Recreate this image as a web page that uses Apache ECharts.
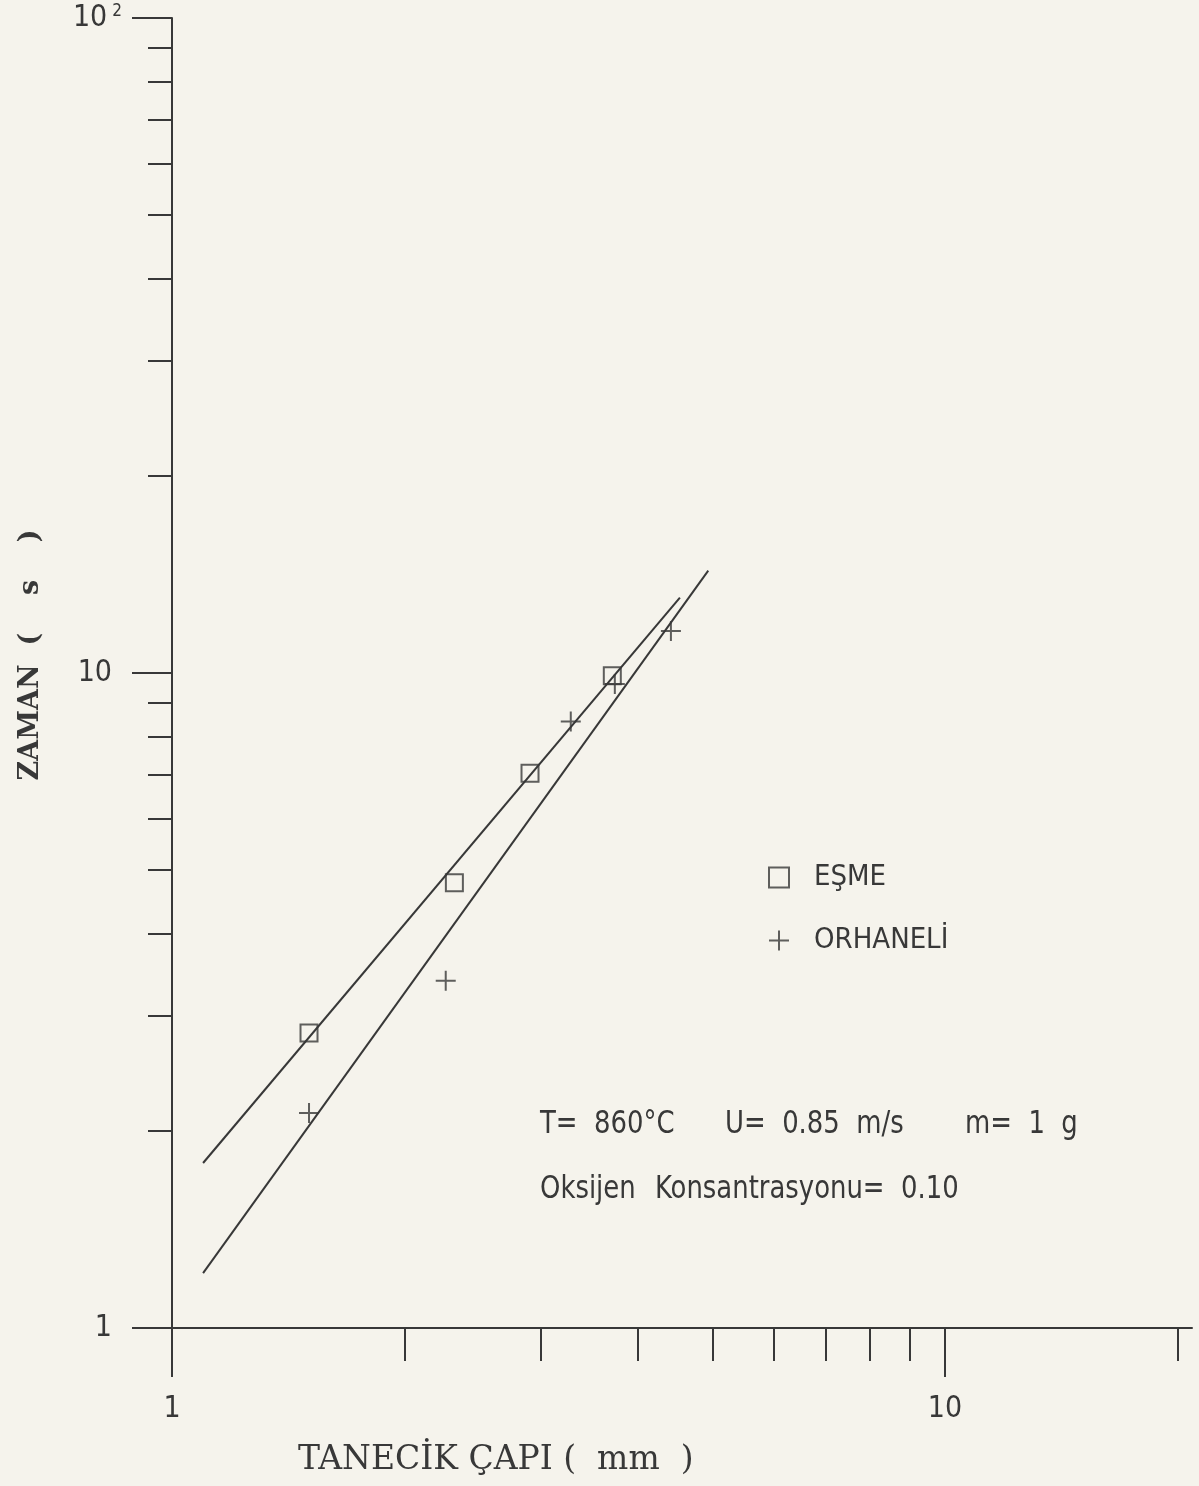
<!DOCTYPE html>
<html>
<head>
<meta charset="utf-8">
<script src="https://cdn.jsdelivr.net/npm/echarts@6/dist/echarts.min.js"></script>
<style>
html,body{margin:0;padding:0;background:#f5f3ec;}
#chart{width:1199px;height:1486px;}
</style>
</head>
<body>
<div id="chart"></div>
<script>
// ---- data ----
const esmeX = [1.504, 2.319, 2.905, 3.712];
const esmeY = [2.82, 4.785, 7.03, 9.90];
const orhX = [1.504, 2.26, 3.28, 3.74, 4.42];
const orhY = [2.13, 3.39, 8.43, 9.62, 11.59];
const esmeFitX = [1.097, 4.54];
const esmeFitY = [1.786, 13.03];
const orhFitX = [1.097, 4.94];
const orhFitY = [1.213, 14.33];
const xMajorTicks = [1, 10];
const xMinorTicks = [2, 3, 4, 5, 6, 7, 8, 9, 20];
const yMajorTicks = [1, 10, 100];
const yMinorTicks = [2, 3, 4, 5, 6, 7, 8, 9, 20, 30, 40, 50, 60, 70, 80, 90];
const yLabelsLow = [1, 10];
const yLabelsTop = [100];
const seriesNames = ['EŞME', 'ORHANELİ'];
const xTitle = 'TANECİK ÇAPI (  mm  )';
const yTitle = 'ZAMAN  (    s    )';
const noteT = 'T=  860°C';
const noteU = 'U=  0.85  m/s';
const noteM = 'm=  1  g';
const noteO = 'Oksijen';
const noteK = 'Konsantrasyonu=  0.10';

const ink = '#383838';
const narrow = "'Liberation Sans Narrow','DejaVu Sans Condensed','Liberation Sans',sans-serif";
const serif = "'DejaVu Serif','Liberation Serif',serif";

const zip = (a, b) => a.map((v, i) => [v, b[i]]);

function xAxisBase() {
  return {type: 'log', logBase: 10, min: 1, max: 20.87, position: 'bottom',
    splitLine: {show: false}, minorTick: {show: false}};
}
function yAxisBase() {
  return {type: 'log', logBase: 10, min: 1, max: 100, position: 'left',
    splitLine: {show: false}, minorTick: {show: false}};
}
const fmt = v => {
  const r = Math.round(v);
  return r === 100 ? '10{sup|2}' : String(r);
};
const labelFont = {fontFamily: narrow, fontSize: 30, color: ink};

const chart = echarts.init(document.getElementById('chart'), null, {renderer: 'canvas'});
chart.setOption({
  backgroundColor: '#f5f3ec',
  animation: false,
  grid: {left: 172, right: 7, top: 18, bottom: 158, containLabel: false},
  xAxis: [
    Object.assign(xAxisBase(), {
      axisLine: {show: true, lineStyle: {color: ink, width: 2}},
      axisTick: {show: true, inside: false, length: 49, customValues: xMajorTicks, lineStyle: {color: ink, width: 2}},
      axisLabel: Object.assign({show: true, customValues: xMajorTicks, margin: 66, formatter: fmt}, labelFont)
    }),
    Object.assign(xAxisBase(), {
      axisLine: {show: false},
      axisTick: {show: true, length: 33, customValues: xMinorTicks, lineStyle: {color: ink, width: 2}},
      axisLabel: {show: false}
    })
  ],
  yAxis: [
    Object.assign(yAxisBase(), {
      axisLine: {show: true, lineStyle: {color: ink, width: 2}},
      axisTick: {show: true, length: 40, customValues: yMajorTicks, lineStyle: {color: ink, width: 2}},
      axisLabel: Object.assign({show: true, customValues: yLabelsLow, margin: 60, formatter: fmt}, labelFont)
    }),
    Object.assign(yAxisBase(), {
      axisLine: {show: false},
      axisTick: {show: true, length: 24, customValues: yMinorTicks, lineStyle: {color: ink, width: 2}},
      axisLabel: Object.assign({show: true, customValues: yLabelsTop, margin: 50, formatter: fmt,
        rich: {sup: {fontFamily: narrow, fontSize: 17, color: ink, verticalAlign: 'top', padding: [0, 0, 12, 5]}}}, labelFont)
    })
  ],
  legend: {
    data: seriesNames,
    orient: 'vertical',
    left: 763,
    top: 858,
    itemWidth: 20,
    itemHeight: 20,
    itemGap: 34,
    textStyle: {fontFamily: narrow, fontSize: 29, color: ink, padding: [0, 0, 0, 20]}
  },
  series: [
    {
      name: seriesNames[0], type: 'scatter', xAxisIndex: 0, yAxisIndex: 0,
      data: zip(esmeX, esmeY), symbol: 'rect', symbolSize: 17,
      itemStyle: {color: 'rgba(0,0,0,0)', borderColor: ink, borderWidth: 2}, z: 5
    },
    {
      name: seriesNames[1], type: 'scatter', xAxisIndex: 0, yAxisIndex: 0,
      data: zip(orhX, orhY), symbol: 'path://M0,10 L20,10 M10,0 L10,20', symbolSize: 20,
      itemStyle: {color: 'rgba(0,0,0,0)', borderColor: ink, borderWidth: 2}, z: 5
    },
    {
      name: 'EŞME fit', type: 'line', xAxisIndex: 0, yAxisIndex: 0,
      data: zip(esmeFitX, esmeFitY), symbol: 'none', lineStyle: {color: ink, width: 2}, z: 3
    },
    {
      name: 'ORHANELİ fit', type: 'line', xAxisIndex: 0, yAxisIndex: 0,
      data: zip(orhFitX, orhFitY), symbol: 'none', lineStyle: {color: ink, width: 2}, z: 3
    }
  ],
  graphic: [
    {type: 'text', x: 540, y: 1125, scaleX: 0.9, style: {text: noteT, font: "32px " + narrow, fill: ink, verticalAlign: 'middle'}},
    {type: 'text', x: 725, y: 1125, scaleX: 0.9, style: {text: noteU, font: "32px " + narrow, fill: ink, verticalAlign: 'middle'}},
    {type: 'text', x: 965, y: 1125, scaleX: 0.9, style: {text: noteM, font: "32px " + narrow, fill: ink, verticalAlign: 'middle'}},
    {type: 'text', x: 540, y: 1190, scaleX: 0.9, style: {text: noteO, font: "32px " + narrow, fill: ink, verticalAlign: 'middle'}},
    {type: 'text', x: 655, y: 1190, scaleX: 0.9, style: {text: noteK, font: "32px " + narrow, fill: ink, verticalAlign: 'middle'}},
    {type: 'text', x: 31, y: 655, rotation: Math.PI / 2,
      style: {text: yTitle, font: "bold 27px " + serif, fill: ink, align: 'center', verticalAlign: 'middle'}},
    {type: 'text', x: 298, y: 1460, style: {text: xTitle, font: "33px " + serif, fill: ink, verticalAlign: 'middle'}}
  ]
});
</script>
</body>
</html>
